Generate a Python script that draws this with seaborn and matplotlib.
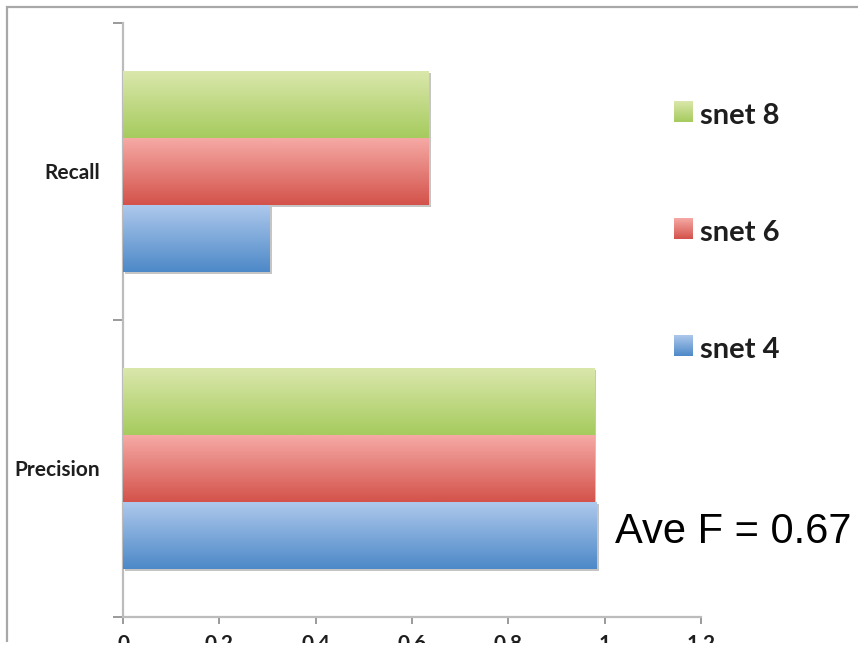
import numpy as np
import pandas as pd
import matplotlib
matplotlib.use("Agg")
import matplotlib.pyplot as plt
import matplotlib.patheffects as pe
from matplotlib.patches import Rectangle
from matplotlib.colors import to_rgb
import seaborn as sns

# ---- data ----
metrics = ["Recall", "Precision"]
series = ["snet 8", "snet 6", "snet 4"]
recall = [0.635, 0.635, 0.305]
precision = [0.978, 0.978, 0.983]
x_ticks = [0, 0.2, 0.4, 0.6, 0.8, 1, 1.2]
x_tick_labels = ["0", "0.2", "0.4", "0.6", "0.8", "1", "1.2"]
note = "Ave F = 0.67"

# top / bottom colours of each series' vertical gradient
grad_top = {"snet 8": "#dae7ab", "snet 6": "#f6a9a5", "snet 4": "#adc8ec"}
grad_bottom = {"snet 8": "#a6cb5e", "snet 6": "#d3534b", "snet 4": "#4d89c8"}

df = pd.DataFrame({
    "metric": np.repeat(metrics, len(series)),
    "series": series * len(metrics),
    "value": recall + precision,
})

LABEL_FONT = ["Lato", "DejaVu Sans"]
NOTE_FONT = ["Liberation Sans", "DejaVu Sans"]


def gradient(name, n=64):
    a = np.array(to_rgb(grad_top[name]))
    b = np.array(to_rgb(grad_bottom[name]))
    t = np.linspace(0, 1, n)[:, None]
    return (a + (b - a) * t)[:, None, :]


sns.set_style("white")
fig = plt.figure(figsize=(8.58, 6.49), dpi=100)
W, H = 858, 649
ax = fig.add_axes([123 / W, 1 - 617 / H, (701 - 123) / W, (617 - 23) / H])

mid = {s: tuple((np.array(to_rgb(grad_top[s])) + np.array(to_rgb(grad_bottom[s]))) / 2)
       for s in series}
sns.barplot(data=df, y="metric", x="value", hue="series", order=metrics,
            hue_order=series, orient="h", width=0.675, palette=mid,
            saturation=1, legend=False, linewidth=0, ax=ax)

# paint each bar with its vertical gradient plus a faint drop shadow
for container, name in zip(ax.containers, series):
    img = gradient(name)
    for bar in container:
        bar.set_path_effects([pe.SimplePatchShadow(offset=(1.5, -1.5),
                                                   shadow_rgbFace="#808080",
                                                   alpha=0.45),
                              pe.Normal()])
        x0, y0 = bar.get_x(), bar.get_y()
        w, h = bar.get_width(), bar.get_height()
        ax.imshow(img, extent=(x0, x0 + w, y0 + h, y0), aspect="auto",
                  interpolation="bilinear", zorder=3)

ax.set_xlim(0, 1.2)
ax.set_ylim(1.5, -0.5)
ax.set_xlabel("")
ax.set_ylabel("")

ax.set_xticks(x_ticks)
ax.set_xticklabels(x_tick_labels)
ax.set_yticks([0, 1])
ax.set_yticklabels(metrics)
ax.set_yticks([-0.5, 0.5, 1.5], minor=True)

ax.tick_params(axis="y", which="major", length=0, pad=16.5)
ax.tick_params(axis="y", which="minor", length=7, width=1.4, color="#9a9a9a",
               direction="out", left=True)
ax.tick_params(axis="x", which="major", length=5, width=1.4, color="#9a9a9a",
               direction="out", bottom=True, pad=7)
for lab in ax.get_xticklabels() + ax.get_yticklabels():
    lab.set_fontfamily(LABEL_FONT)
    lab.set_fontweight("bold")
    lab.set_fontsize(15)
    lab.set_color("#1e1e1e")

sns.despine(ax=ax, top=True, right=True)
for side in ("left", "bottom"):
    ax.spines[side].set_color("#bcbcbc")
    ax.spines[side].set_linewidth(1.6)
ax.grid(False)

# ---- overlay in pixel coordinates: frame, legend, note ----
ov = fig.add_axes([0, 0, 1, 1])
ov.axis("off")

ov.plot([7, 7, W], [642, 7, 7], color="#a8a8a8", lw=1.6,
        solid_capstyle="butt", solid_joinstyle="miter")

for i, name in enumerate(series):
    top = 101 + 117 * i
    ov.imshow(gradient(name), extent=(674, 693, top + 21, top), aspect="auto",
              interpolation="bilinear", zorder=3)
    ov.text(700, 124 + 117 * i, name, fontsize=21, fontweight="bold",
            family=LABEL_FONT, color="#1e1e1e", va="baseline", ha="left")

ov.text(615, 543, note, fontsize=30, family=NOTE_FONT, color="black",
        va="baseline", ha="left")

# blank strip along the bottom edge
ov.add_patch(Rectangle((0, 643), W, 20, facecolor="white", edgecolor="none",
                       zorder=20))

ov.set_xlim(0, W)
ov.set_ylim(H, 0)

fig.savefig("out.png", dpi=100, facecolor="white")
